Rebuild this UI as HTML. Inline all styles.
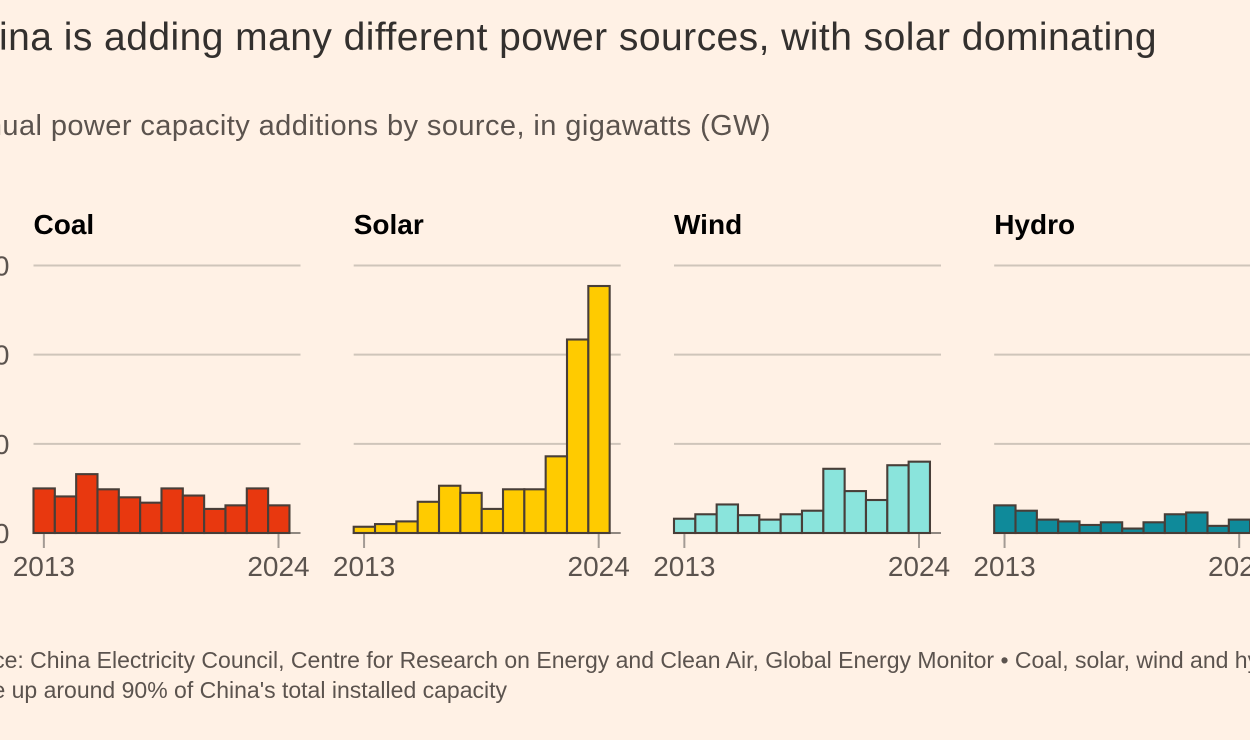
<!DOCTYPE html>
<html lang="en">
<head>
<meta charset="utf-8">
<title>China power capacity additions</title>
<style>
  html, body { margin: 0; padding: 0; background: #fff1e5; }
  body { width: 1250px; height: 740px; overflow: hidden; }
  svg { display: block; font-family: "Liberation Sans", sans-serif; }
</style>
</head>
<body>
<svg id="chart" xmlns="http://www.w3.org/2000/svg" width="1250" height="740" viewBox="0 0 1250 740">
  <rect x="0" y="0" width="1250" height="740" fill="#fff1e5"/>
  <text x="1157" y="50" text-anchor="end" font-size="39" letter-spacing="0.45" fill="#33302e">China is adding many different power sources, with solar dominating</text>
  <text x="771" y="135" text-anchor="end" font-size="29" letter-spacing="0.42" fill="#5b534e">Annual power capacity additions by source, in gigawatts (GW)</text>
  <g id="panels"></g>
  <text x="-55.5" y="668" font-size="23" fill="#5b534e">Source: China Electricity Council, Centre for Research on Energy and Clean Air, Global Energy Monitor • Coal, solar, wind and hydro</text>
  <text x="-51" y="698" font-size="23" fill="#5b534e">make up around 90% of China's total installed capacity</text>
</svg>
<script>
const years = [2013, 2014, 2015, 2016, 2017, 2018, 2019, 2020, 2021, 2022, 2023, 2024];
const yTicks = [0, 100, 200, 300];
const xTickYears = [2013, 2024];
const coalValues = [50, 41, 66, 49, 40, 34, 50, 42, 27, 31, 50, 31];
const solarValues = [7, 10, 13, 35, 53, 45, 27, 49, 49, 86, 217, 277];
const windValues = [16, 21, 32, 20, 15, 21, 25, 72, 47, 37, 76, 80];
const hydroValues = [31, 25, 15, 13, 9, 12, 5, 12, 21, 23, 8, 15];
const panelNames = ['Coal', 'Solar', 'Wind', 'Hydro'];
const panelSeries = [coalValues, solarValues, windValues, hydroValues];

const NS = 'http://www.w3.org/2000/svg';
const root = document.getElementById('panels');
const panelStarts = [33.5, 353.7, 674, 994.2];
const panelWidth = 267;
const plotBottom = 533;
const plotTop = 265.5;
const yMax = 300;
const barStep = 21.33;

function yScale(v) {
  return plotBottom - (v / yMax) * (plotBottom - plotTop);
}
function xScale(i) {
  return i * barStep;
}
function make(tag, attrs, parent) {
  const el = document.createElementNS(NS, tag);
  for (const k in attrs) el.setAttribute(k, attrs[k]);
  parent.appendChild(el);
  return el;
}
const fills = ['#e8380f', '#ffcb00', '#8ae4dc', '#0f8a9a'];

panelNames.forEach(function (name, p) {
  const x0 = panelStarts[p];
  const slug = name.toLowerCase();
  const g = make('g', {}, root);
  
  

  const title = make('text', { x: x0, y: 234, 'font-size': 28, 'font-weight': 'bold', fill: '#000' }, g);
  
  
  title.textContent = name;

  yTicks.forEach(function (t) {
    if (t === 0) return;
    const line = make('line', { x1: x0, x2: x0 + panelWidth, y1: yScale(t), y2: yScale(t), stroke: '#cfc5ba', 'stroke-width': 2 }, g);
    
    
  });

  const axis = make('line', { x1: x0 - 1, x2: x0 + panelWidth, y1: plotBottom, y2: plotBottom, stroke: '#8f8780', 'stroke-width': 2 }, g);
  
  

  panelSeries[p].forEach(function (v, i) {
    const bar = make('rect', {
      x: x0 + xScale(i),
      y: yScale(v),
      width: barStep,
      height: plotBottom - yScale(v),
      fill: fills[p],
      stroke: '#483e38',
      'stroke-width': 2.1
    }, g);
    
    
  });

  xTickYears.forEach(function (yr) {
    const cx = x0 + xScale(years.indexOf(yr)) + barStep / 2 - 0.3;
    const tick = make('line', { x1: cx, x2: cx, y1: plotBottom + 1, y2: plotBottom + 15, stroke: '#a39b94', 'stroke-width': 2 }, g);
    
    
    const lab = make('text', { x: cx, y: 576, 'text-anchor': 'middle', 'font-size': 28, fill: '#5b534e' }, g);
    
    
    lab.textContent = yr;
  });
});

yTicks.forEach(function (t) {
  const lab = make('text', { x: 9.5, y: yScale(t) + 10, 'text-anchor': 'end', 'font-size': 28, fill: '#5b534e' }, root);
  
  
  lab.textContent = t;
});
</script>
</body>
</html>
